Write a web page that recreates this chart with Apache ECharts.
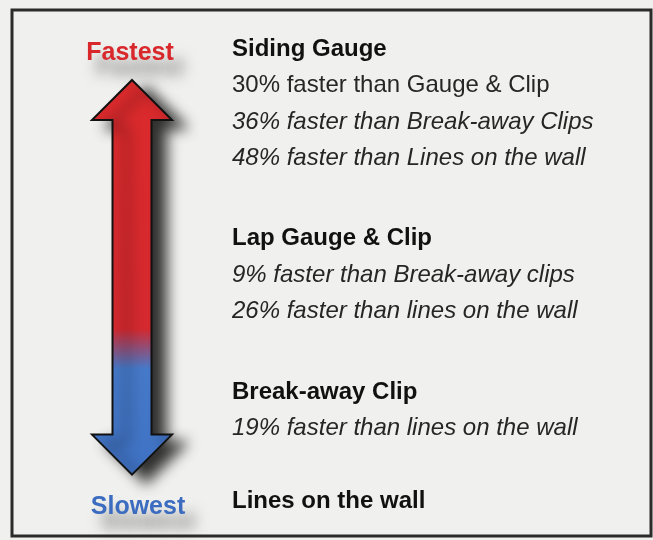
<!DOCTYPE html>
<html>
<head>
<meta charset="utf-8">
<script src="https://cdn.jsdelivr.net/npm/echarts@6/dist/echarts.min.js"></script>
<style>
  html, body { margin: 0; padding: 0; background: #fff; }
  #main { width: 653px; height: 540px; }
</style>
</head>
<body>
<div id="main"></div>
<script>
// methods, from fastest to slowest
var methods = ['Siding Gauge', 'Lap Gauge & Clip', 'Break-away Clip', 'Lines on the wall'];
// what each method beats
var comparisons = [
  ['30% faster than Gauge & Clip', '36% faster than Break-away Clips', '48% faster than Lines on the wall'],
  ['9% faster than Break-away clips', '26% faster than lines on the wall'],
  ['19% faster than lines on the wall'],
  []
];
// lines set upright, the rest are italic
var uprightLines = ['30% faster than Gauge & Clip'];
var speedLabels = ['Fastest', 'Slowest'];

var chart = echarts.init(document.getElementById('main'));

// lay the text out in line units
var GROUP_GAP = 2.2;
var LAST_GAP = 2.0;
var textRows = [];
var headRows = [];
var row = 0;
methods.forEach(function (m, i) {
  headRows.push(row);
  textRows.push([0, row, m, 'head']);
  comparisons[i].forEach(function (c) {
    row += 1;
    textRows.push([0, row, c, uprightLines.indexOf(c) >= 0 ? 'body' : 'italic']);
  });
  row += (i === methods.length - 2) ? LAST_GAP : GROUP_GAP;
});
var firstRow = headRows[0];
var lastRow = headRows[headRows.length - 1];

var PITCH = 36.5;
var yMin = -49 / PITCH;
var yMax = yMin + 540 / PITCH;

var fontMain = '"Liberation Sans", Arial, sans-serif';

var option = {
  backgroundColor: '#f0f0ee',
  animation: false,
  grid: { left: 0, right: 0, top: 0, bottom: 0 },
  xAxis: { type: 'value', min: 0, max: 653, show: false },
  yAxis: { type: 'value', min: yMin, max: yMax, inverse: true, show: false },
  graphic: [{
    type: 'rect',
    shape: { x: 12, y: 10, width: 639, height: 526 },
    style: { fill: 'none', stroke: '#2b2b2b', lineWidth: 3 },
    silent: true
  }],
  series: [
    {
      // the speed arrow
      type: 'custom',
      data: [[firstRow, lastRow]],
      renderItem: function (params, api) {
        var top = api.coord([132, api.value(0)]);
        var bot = api.coord([132, api.value(1)]);
        var cx = top[0];
        var yTop = top[1] + 31;
        var yBot = bot[1] - 27;
        var sw = 19.5, hw = 40, hl = 40;
        var pts = [
          [cx, yTop], [cx + hw, yTop + hl], [cx + sw, yTop + hl],
          [cx + sw, yBot - hl], [cx + hw, yBot - hl], [cx, yBot],
          [cx - hw, yBot - hl], [cx - sw, yBot - hl], [cx - sw, yTop + hl],
          [cx - hw, yTop + hl]
        ];
        return {
          type: 'polygon',
          shape: { points: pts },
          style: {
            fill: new echarts.graphic.LinearGradient(0, 0, 0, 1, [
              { offset: 0, color: '#db2a2c' },
              { offset: 0.63, color: '#d4292f' },
              { offset: 0.73, color: '#4679c8' },
              { offset: 1, color: '#3f72c4' }
            ]),
            stroke: '#111',
            lineWidth: 2,
            shadowColor: 'rgba(0,0,0,0.8)',
            shadowBlur: 14,
            shadowOffsetX: 14,
            shadowOffsetY: 8
          }
        };
      }
    },
    {
      // Fastest / Slowest
      type: 'custom',
      data: [[130, firstRow + 0.1, 0], [138, lastRow + 0.15, 1]],
      renderItem: function (params, api) {
        var p = api.coord([api.value(0), api.value(1)]);
        var idx = api.value(2);
        return {
          type: 'text',
          x: p[0], y: p[1],
          style: {
            text: speedLabels[idx],
            fill: idx === 0 ? '#d9282c' : '#3b6cc0',
            font: 'bold 25px ' + fontMain,
            align: 'center',
            verticalAlign: 'middle',
            textShadowColor: 'rgba(0,0,0,0.5)',
            textShadowBlur: 14,
            textShadowOffsetX: 10,
            textShadowOffsetY: 15
          }
        };
      }
    },
    {
      // method names and comparisons
      type: 'custom',
      data: textRows.map(function (t, i) { return [232, t[1], i]; }),
      renderItem: function (params, api) {
        var p = api.coord([api.value(0), api.value(1)]);
        var t = textRows[api.value(2)];
        var font;
        if (t[3] === 'head') font = 'bold 24px ' + fontMain;
        else if (t[3] === 'italic') font = 'italic 24px ' + fontMain;
        else font = '24px ' + fontMain;
        return {
          type: 'text',
          x: p[0], y: p[1],
          style: {
            text: t[2],
            fill: t[3] === 'head' ? '#111' : '#262626',
            font: font,
            align: 'left',
            verticalAlign: 'middle'
          }
        };
      }
    }
  ]
};

chart.setOption(option);
</script>
</body>
</html>
